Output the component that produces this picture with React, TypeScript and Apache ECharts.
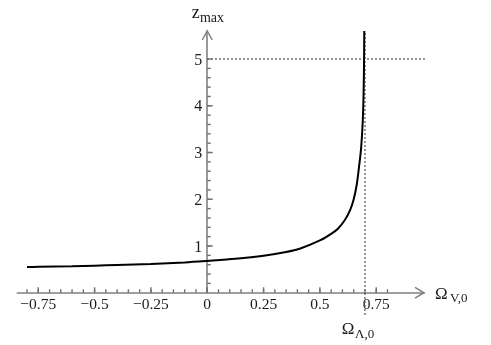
import React, { useEffect, useRef } from "react";
import * as echarts from "echarts";

// Curve: Omega_V,0 -> z_max
const omegaV = [-0.8, -0.75, -0.6, -0.5, -0.4, -0.25, -0.1, 0, 0.125, 0.25, 0.35, 0.41, 0.5, 0.55, 0.58, 0.61, 0.635, 0.65, 0.663, 0.675, 0.683, 0.69, 0.694, 0.696, 0.697];
const zMax = [0.55, 0.555, 0.568, 0.58, 0.594, 0.615, 0.648, 0.68, 0.725, 0.79, 0.87, 0.94, 1.12, 1.26, 1.37, 1.55, 1.78, 2.0, 2.3, 2.75, 3.1, 3.65, 4.3, 5.0, 5.6];

const xTickLabels = [-0.75, -0.5, -0.25, 0, 0.25, 0.5, 0.75];
const yTickLabels = [1, 2, 3, 4, 5];
const omegaLambda0 = 0.7;
const zRef = 5;

const X_MIN = -0.843;
const X_MAX = 0.962;
const Y_MIN = 0;
const Y_MAX = 5.6;

const xMinor: number[] = [];
for (let i = -16; i <= 16; i++) xMinor.push(Math.round(i * 5) / 100);
const yMinor: number[] = [];
for (let i = 1; i <= 24; i++) yMinor.push(Math.round(i * 2) / 10);

const AX = "#808080";
const TXT = "#1a1a1a";
const FONT = "'Liberation Serif', 'Times New Roman', serif";

export default function App() {
  const ref = useRef<HTMLDivElement>(null);
  useEffect(() => {
    if (!ref.current) return;
    const chart = echarts.init(ref.current, undefined, { renderer: "svg" });
    const fmt = (v: number) => (v < 0 ? "\u2212" + String(-v) : String(v));
    const option: any = {
      animation: false,
      grid: { left: 17.3, right: 67, top: 31, bottom: 52.25, containLabel: false },
      xAxis: {
        type: "value", min: X_MIN, max: X_MAX, position: "bottom",
        axisLine: { show: true, onZero: false, lineStyle: { color: AX, width: 1.6 } },
        axisTick: { show: false },
        axisLabel: { show: true, customValues: xTickLabels, formatter: fmt, margin: 3, color: TXT, fontFamily: FONT, fontSize: 15.5 },
        splitLine: { show: false },
      },
      yAxis: {
        type: "value", min: Y_MIN, max: Y_MAX, position: "left", offset: 0,
        axisLine: { show: true, onZero: false, lineStyle: { color: AX, width: 1.6 } },
        axisTick: { show: false },
        axisLabel: { show: true, customValues: yTickLabels, margin: 5, color: TXT, fontFamily: FONT, fontSize: 16 },
        splitLine: { show: false },
      },
      series: [
        {
          type: "line", showSymbol: false, symbol: "none",
          data: [[0, zRef], [0.966, zRef]],
          lineStyle: { color: "#444", width: 1.5, type: [1.5, 2.5] },
          silent: true,
        },
        {
          type: "line", showSymbol: false, symbol: "none", clip: false,
          data: [[omegaLambda0, -0.47], [omegaLambda0, Y_MAX]],
          lineStyle: { color: "#444", width: 1.5, type: [1.5, 2.5] },
          silent: true,
        },
        {
          type: "line", showSymbol: false, symbol: "none",
          smooth: 0.3,
          data: omegaV.map((x, i) => [x, zMax[i]]),
          lineStyle: { color: "#000", width: 2 },
          silent: true,
        },
      ],
    };
    chart.setOption(option);

    const p = (x: number, y: number) => chart.convertToPixel({ xAxisIndex: 0, yAxisIndex: 0 }, [x, y]) as number[];
    const left = p(X_MIN, 0);
    const origin = p(0, 0);
    const xEnd = p(X_MAX, 0);
    const yEnd = p(0, Y_MAX);
    const lam = p(omegaLambda0, 0);
    const txt = (x: number, y: number, text: string, size: number) => ({
      type: "text", x, y, silent: true,
      style: { text, fill: TXT, font: `${size}px ${FONT}`, align: "left", verticalAlign: "middle" },
    });
    const seg = (x1: number, y1: number, x2: number, y2: number) => ({
      type: "polyline", silent: true, z: 100, shape: { points: [[x1, y1], [x2, y2]] }, style: { stroke: "#707070", lineWidth: 1.4, fill: "none" },
    });
    const ticks: any[] = [];
    xMinor.forEach((v) => { const q = p(v, 0); ticks.push(seg(q[0], q[1], q[0], q[1] - 3.5)); });
    xTickLabels.forEach((v) => { const q = p(v, 0); ticks.push(seg(q[0], q[1], q[0], q[1] - 5.5)); });
    yMinor.forEach((v) => { const q = p(0, v); ticks.push(seg(q[0], q[1], q[0] + 3.5, q[1])); });
    yTickLabels.forEach((v) => { const q = p(0, v); ticks.push(seg(q[0], q[1], q[0] + 5.5, q[1])); });

    chart.setOption({
      yAxis: { offset: left[0] - origin[0] },
      graphic: [
        ...ticks,
        { type: "polyline", silent: true, shape: { points: [[xEnd[0] - 9, xEnd[1] - 5.3], [xEnd[0], xEnd[1]], [xEnd[0] - 9, xEnd[1] + 5.3]] }, style: { stroke: AX, lineWidth: 1.5, fill: "none" } },
        { type: "polyline", silent: true, shape: { points: [[yEnd[0] - 5, yEnd[1] + 9], [yEnd[0], yEnd[1]], [yEnd[0] + 5, yEnd[1] + 9]] }, style: { stroke: AX, lineWidth: 1.5, fill: "none" } },
        txt(xEnd[0] + 11, xEnd[1] + 0.5, "\u03A9", 17),
        txt(xEnd[0] + 26, xEnd[1] + 5, "V,0", 13),
        txt(lam[0] - 23.3, lam[1] + 35.5, "\u03A9", 17),
        txt(lam[0] - 10, lam[1] + 40.3, "\u039B,0", 13),
        txt(yEnd[0] - 15.6, yEnd[1] - 18.8, "z", 18),
        txt(yEnd[0] - 7.3, yEnd[1] - 14, "max", 14),
      ],
    });
    return () => chart.dispose();
  }, []);
  return <div ref={ref} style={{ position: "fixed", left: 0, top: 0, width: 491, height: 345 }} />;
}
